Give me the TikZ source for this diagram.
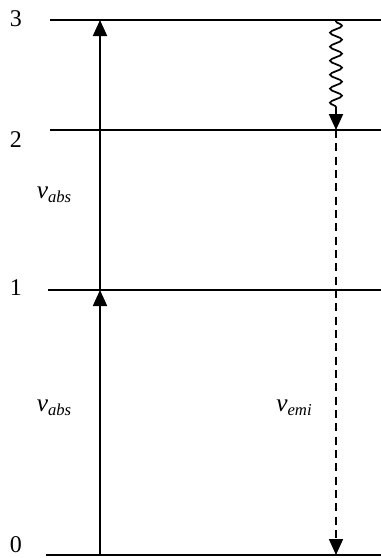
\documentclass[tikz,border=0pt]{standalone}
\usepackage{fontspec}
\setmainfont{Liberation Serif}
\usetikzlibrary{arrows.meta,decorations.pathmorphing}
\newcommand{\freqlbl}[1]{\fontsize{19}{22}\selectfont\textit{v}\raisebox{-3pt}{\fontsize{12.5}{14}\selectfont\textit{#1}}}
\begin{document}
\begin{tikzpicture}[x=0.75pt,y=-0.75pt,
  level/.style={line width=1.5pt},
  trans/.style={line width=1.5pt,-{Triangle[width=10.5pt,length=12pt]}},
  lbl/.style={inner sep=0pt,font=\fontsize{18}{21}\selectfont}]
\useasboundingbox (0,0) rectangle (381,558);
% levels
\coordinate (L3a) at (50,20);  \coordinate (L3b) at (381,20);
\coordinate (L2a) at (50,130); \coordinate (L2b) at (381,130);
\coordinate (L1a) at (48,290); \coordinate (L1b) at (381,290);
\coordinate (L0a) at (46,555); \coordinate (L0b) at (381,555);
\draw[level] (L3a) -- (L3b);
\draw[level] (L2a) -- (L2b);
\draw[level] (L1a) -- (L1b);
\draw[level] (L0a) -- (L0b);
\node[lbl] (n3) at (16,19) {3};
\node[lbl] (n2) at (16,140) {2};
\node[lbl] (n1) at (16,288) {1};
\node[lbl] (n0) at (16,545) {0};
% absorption
\coordinate (A0) at (100,555);
\coordinate (A1) at (100,290);
\coordinate (A3) at (100,20);
\draw[trans] (A0) -- (A1);
\draw[trans] (A1) -- (A3);
% relaxation + emission
\coordinate (E3) at (336,20);
\coordinate (Ez) at (336,110);
\coordinate (E2) at (336,130);
\coordinate (E0) at (336,555);
\draw[line width=1.3pt,decorate,decoration={snake,amplitude=4.5pt,segment length=10.5pt,pre length=1pt,post length=1pt}] (E3) -- (Ez);
\draw[trans] (Ez) -- (E2);
\draw[trans,line width=1.2pt,dash pattern=on 6pt off 4pt] (E2) -- (E0);
% labels
\node[inner sep=0pt] (va1) at (54,195) {\freqlbl{abs}};
\node[inner sep=0pt] (va2) at (54,408) {\freqlbl{abs}};
\node[inner sep=0pt] (ve) at (294,408) {\freqlbl{emi}};
\end{tikzpicture}
\end{document}
